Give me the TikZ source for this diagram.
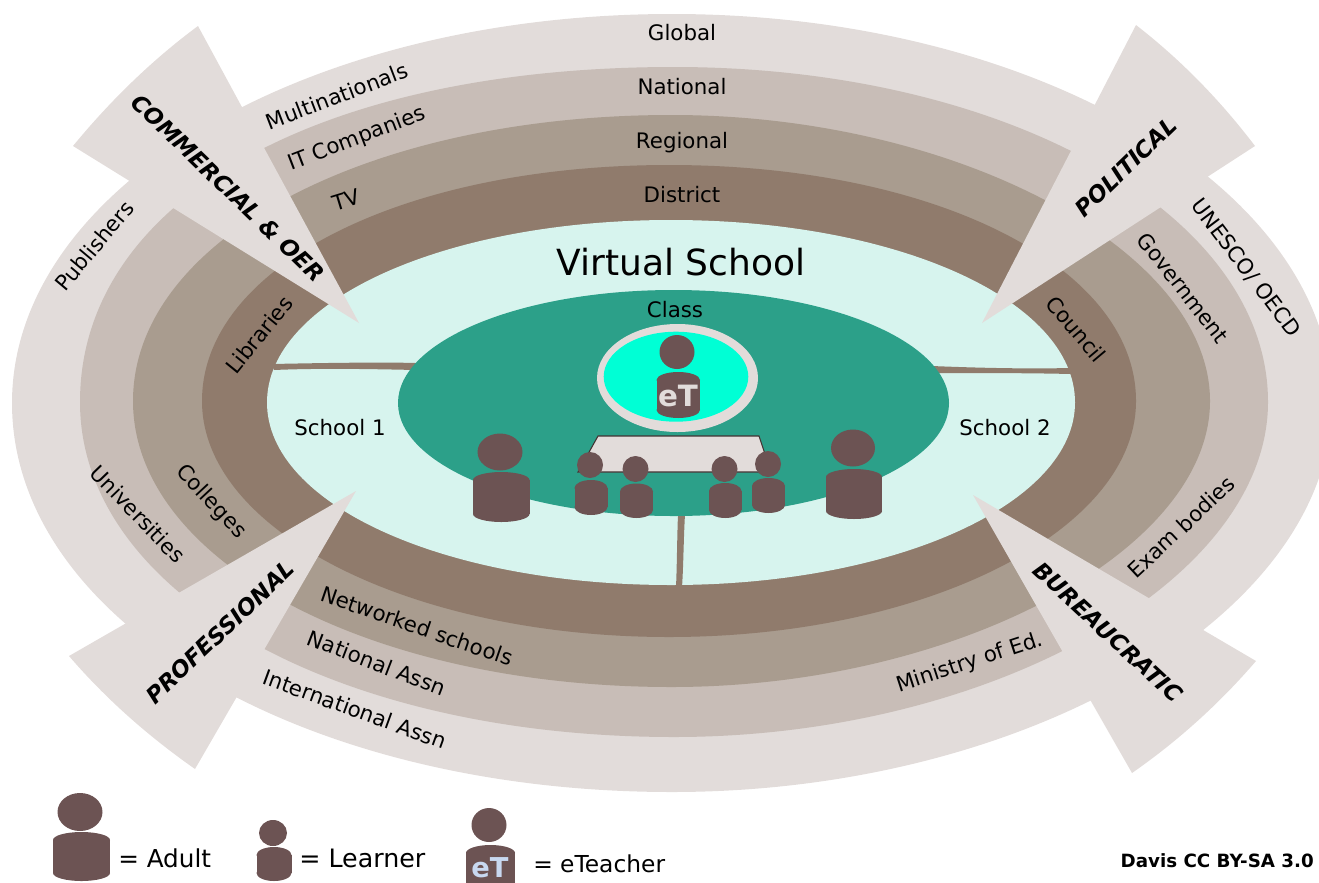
\documentclass[tikz,border=0pt]{standalone}
\usepackage{fontspec}
\setmainfont{DejaVu Sans}
\definecolor{bandA}{HTML}{E2DCDA}
\definecolor{bandB}{HTML}{C8BDB7}
\definecolor{bandC}{HTML}{A99C8F}
\definecolor{bandD}{HTML}{907B6C}
\definecolor{schoolc}{HTML}{D7F4EE}
\definecolor{classc}{HTML}{2CA089}
\definecolor{screenc}{HTML}{00FFD5}
\definecolor{figc}{HTML}{6C5353}
\definecolor{tlegend}{HTML}{C8D8F0}
\newcommand{\headfig}[4]{\fill[figc] (#1,#2) ellipse [x radius=#3,y radius=#4];}
\newcommand{\bodyfig}[4]{%
  \pgfmathsetmacro{\bmid}{(#1+#2)/2}\pgfmathsetmacro{\brad}{(#2-#1)/2}%
  \pgfmathsetmacro{\btop}{#3+8}\pgfmathsetmacro{\bbot}{#4-8}%
  \fill[figc] (#1,\btop) rectangle (#2,\bbot);
  \fill[figc] (\bmid,\btop) ellipse [x radius=\brad,y radius=8];
  \fill[figc] (\bmid,\bbot) ellipse [x radius=\brad,y radius=8];}
% colour, cx, cy, rx, ry, kappa of the four quadrants TL TR BR BL
\newcommand{\ringfill}[9]{%
  \fill[#1] ({#2-#4},#3)
   .. controls ({#2-#4},{#3-#6*#5}) and ({#2-#6*#4},{#3-#5}) .. (#2,{#3-#5})
   .. controls ({#2+#7*#4},{#3-#5}) and ({#2+#4},{#3-#7*#5}) .. ({#2+#4},#3)
   .. controls ({#2+#4},{#3+#8*#5}) and ({#2+#8*#4},{#3+#5}) .. (#2,{#3+#5})
   .. controls ({#2-#9*#4},{#3+#5}) and ({#2-#4},{#3+#9*#5}) .. ({#2-#4},#3) -- cycle;}
\tikzset{
  lab/.style={font=\fontsize{16pt}{18pt}\selectfont,text=black,inner sep=0pt},
  biglab/.style={font=\fontsize{27pt}{32pt}\selectfont,text=black,inner sep=0pt},
  force/.style={font=\fontsize{17pt}{20pt}\selectfont\bfseries\itshape,text=black,inner sep=0pt},
  legend/.style={font=\fontsize{18.5pt}{22pt}\selectfont,text=black,inner sep=0pt,anchor=west},
  wedge/.style={fill=bandA,draw=none},
  divider/.style={fill=bandD,draw=none}
}
\begin{document}
\begin{tikzpicture}[x=0.75pt,y=-0.75pt]
\useasboundingbox (0,0) rectangle (1319,882);
\clip (0,0) rectangle (1319,882);
% rings
\ringfill{bandA}{672}{403}{660}{389}{.555}{.55}{.54}{.56}
\ringfill{bandB}{674}{402}{594}{335}{.60}{.56}{.533}{.57}
\ringfill{bandC}{671.5}{401}{538.5}{286}{.565}{.528}{.525}{.56}
\ringfill{bandD}{669}{401}{467}{236}{.57}{.57}{.55}{.552}
\ringfill{schoolc}{671}{402.5}{404}{182.5}{.56}{.56}{.555}{.56}
% dividers
\fill[divider] (272,364) .. controls (320,363) and (380,362) .. (416,363) -- (416,370) .. controls (370,369) and (320,368) .. (274,370) -- cycle;
\fill[divider] (932,366) .. controls (980,368) and (1030,369) .. (1069,368) -- (1071,374) .. controls (1030,373) and (980,373) .. (934,373) -- cycle;
\fill[divider] (678,514) -- (685,514) .. controls (683.5,540) and (683.5,565) .. (682,587) -- (676,587) .. controls (677,565) and (677,540) .. (678,514) -- cycle;
% class
\fill[classc] (673.5,403) ellipse [x radius=275.5,y radius=113];
\fill[bandA] (677.5,378) ellipse [x radius=80.5,y radius=54];
\fill[screenc] (676,376.7) ellipse [x radius=72.3,y radius=45];
% table
\draw[fill=bandA,draw=figc!60!black,line width=0.8pt] (598,436) -- (759,436) -- (771,472) -- (578,472) -- cycle;
% people
\headfig{500}{452}{22.5}{18.5}\bodyfig{473}{529.5}{472}{522}
\headfig{853}{448}{22}{18.5}\bodyfig{826}{882}{469}{519}
\headfig{590}{465}{13}{13}\bodyfig{574.5}{607.5}{480}{515}
\headfig{635.5}{469}{13}{13}\bodyfig{620}{653}{483.5}{518}
\headfig{724.5}{469}{13}{13}\bodyfig{709}{741.5}{483}{518}
\headfig{768}{464}{13}{13}\bodyfig{752}{785}{478}{513}
\headfig{677}{352}{17.5}{17}\bodyfig{656.5}{700}{372}{418}
\node[font=\fontsize{22pt}{26pt}\selectfont\bfseries,text=bandA,inner sep=0pt] (et) at (678,396) {eT};
% wedges
\path[wedge] (359,323) -- (198,26) .. controls (152,60) and (110,101) .. (73,146) -- cycle;
\path[wedge] (982,323) -- (1136,25) .. controls (1181,60) and (1220,100) .. (1255,146) -- cycle;
\path[wedge] (356,491) -- (69,656) .. controls (106,699) and (148,736) .. (195,769) -- cycle;
\path[wedge] (973,495) -- (1256,661) .. controls (1220,703) and (1178,741) .. (1132,773) -- cycle;
% labels
\node[lab] (global) at (682,33) {Global};
\node[lab] (national) at (682,87) {National};
\node[lab] (regional) at (682,143) {Regional};
\node[lab] (district) at (682,195) {District};
\node[biglab] (virtual) at (681,262) {Virtual School};
\node[lab] (class) at (675,310) {Class};
\node[lab] (s1) at (340,428) {School 1};
\node[lab] (s2) at (1005,428) {School 2};
\node[lab,rotate=21] (multi) at (337,96) {Multinationals};
\node[lab,rotate=21] (itc) at (357,139) {IT Companies};
\node[lab,rotate=17] (tv) at (346,200) {TV};
\node[lab,rotate=50] (pub) at (94,246) {Publishers};
\node[lab,rotate=51] (lib) at (259,335) {Libraries};
\node[lab,rotate=-47] (coll) at (211,502) {Colleges};
\node[lab,rotate=-46] (univ) at (138,514) {Universities};
\node[lab,rotate=-19] (net) at (417,626) {Networked schools};
\node[lab,rotate=-21] (natas) at (377,663) {National Assn};
\node[lab,rotate=-20] (intas) at (355,709) {International Assn};
\node[lab,rotate=18] (min) at (970,663) {Ministry of Ed.};
\node[lab,rotate=-50] (coun) at (1076,329) {Council};
\node[lab,rotate=-52] (gov) at (1183,288) {Government};
\node[lab,rotate=-53] (unesco) at (1246,268) {UNESCO/ OECD};
\node[lab,rotate=43] (exam) at (1181,527) {Exam bodies};
\node[force,rotate=-44] (fc) at (228,188) {COMMERCIAL \& OER};
\node[force,rotate=44] (fp) at (1126,167) {POLITICAL};
\node[force,rotate=43.5] (fr) at (220,632) {PROFESSIONAL};
\node[force,rotate=-43] (fb) at (1108,632) {BUREAUCRATIC};
% legend
\headfig{80}{812}{22.5}{19}\bodyfig{53}{110}{832}{881}
\headfig{273}{833}{14}{13}\bodyfig{256.5}{291.5}{847}{881}
\headfig{489}{825}{17.5}{17}\bodyfig{466}{515}{845}{890}
\node[font=\fontsize{20.5pt}{24pt}\selectfont\bfseries,text=tlegend,inner sep=0pt] (etl) at (490,868) {eT};
\node[legend] (ladult) at (118,858) {= Adult};
\node[legend,font=\fontsize{19pt}{22pt}\selectfont] (llearn) at (299,858) {= Learner};
\node[legend,font=\fontsize{17.5pt}{20pt}\selectfont] (lteach) at (533,864) {= eTeacher};
\node[font=\fontsize{13.7pt}{16pt}\selectfont\bfseries,inner sep=0pt,anchor=east] (credit) at (1314,861) {Davis CC BY-SA 3.0};
\end{tikzpicture}
\end{document}
